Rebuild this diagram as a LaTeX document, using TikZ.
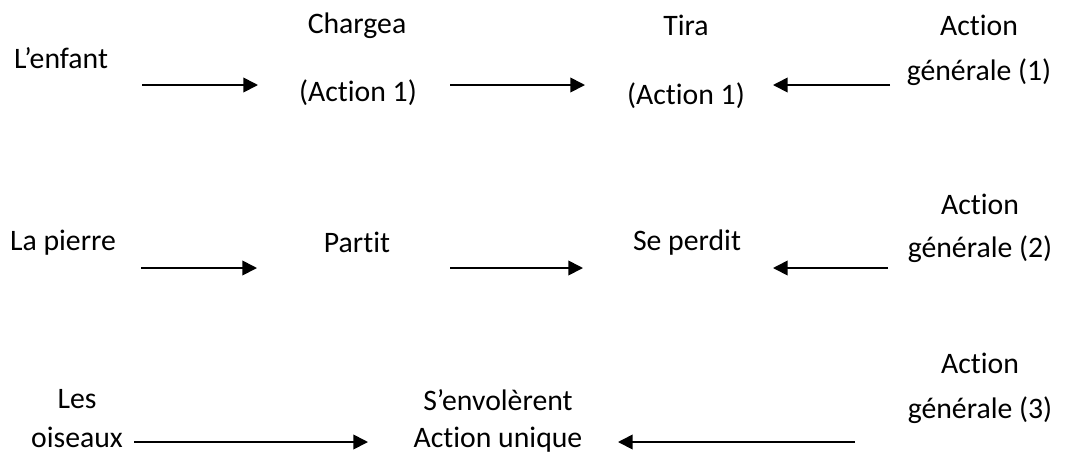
\documentclass[tikz,border=0pt]{standalone}
\usepackage{fontspec}
\setmainfont{Carlito}[Ligatures=NoCommon]
\usetikzlibrary{arrows.meta}

\tikzset{
  mot/.style={anchor=base, inner sep=0pt, font=\fontsize{22.3}{26}\selectfont},
  fleche/.style={-{Triangle[length=11pt,width=11pt]}, line width=1.3pt},
}

\begin{document}
\begin{tikzpicture}[x=0.75pt, y=-0.75pt]
  \useasboundingbox (0,0) rectangle (1075,455);

  % ligne 1
  \node[mot] (enfant) at (61,68) {L’enfant};
  \node[mot] (chargea) at (357,33) {Chargea};
  \node[mot] (act1a) at (358,101) {(Action 1)};
  \node[mot] (tira) at (686,35) {Tira};
  \node[mot] (act1b) at (686,104) {(Action 1)};
  \node[mot] (gen1a) at (979,35) {Action};
  \node[mot] (gen1b) at (979,80) {générale (1)};

  \coordinate (d1) at (142,85);  \coordinate (f1) at (258,85);
  \coordinate (d2) at (450,85);  \coordinate (f2) at (585,85);
  \coordinate (d3) at (890,85);  \coordinate (f3) at (773,85);
  \draw[fleche] (d1) -- (f1);
  \draw[fleche] (d2) -- (f2);
  \draw[fleche] (d3) -- (f3);

  % ligne 2
  \node[mot] (pierre) at (63,250) {La pierre};
  \node[mot] (partit) at (357,252) {Partit};
  \node[mot] (perdit) at (687,250) {Se perdit};
  \node[mot] (gen2a) at (980,214) {Action};
  \node[mot] (gen2b) at (980,257) {générale (2)};

  \coordinate (d4) at (141,268); \coordinate (f4) at (257,268);
  \coordinate (d5) at (450,268); \coordinate (f5) at (583,268);
  \coordinate (d6) at (888,268); \coordinate (f6) at (773,268);
  \draw[fleche] (d4) -- (f4);
  \draw[fleche] (d5) -- (f5);
  \draw[fleche] (d6) -- (f6);

  % ligne 3
  \node[mot] (les) at (77,408) {Les};
  \node[mot] (oiseaux) at (77,447) {oiseaux};
  \node[mot] (envol) at (498,410) {S’envolèrent};
  \node[mot] (unique) at (498,447) {Action unique};
  \node[mot] (gen3a) at (980,373) {Action};
  \node[mot] (gen3b) at (980,418) {générale (3)};

  \coordinate (d7) at (134,442); \coordinate (f7) at (368,442);
  \coordinate (d8) at (855,442); \coordinate (f8) at (618,442);
  \draw[fleche] (d7) -- (f7);
  \draw[fleche] (d8) -- (f8);
\end{tikzpicture}
\end{document}
